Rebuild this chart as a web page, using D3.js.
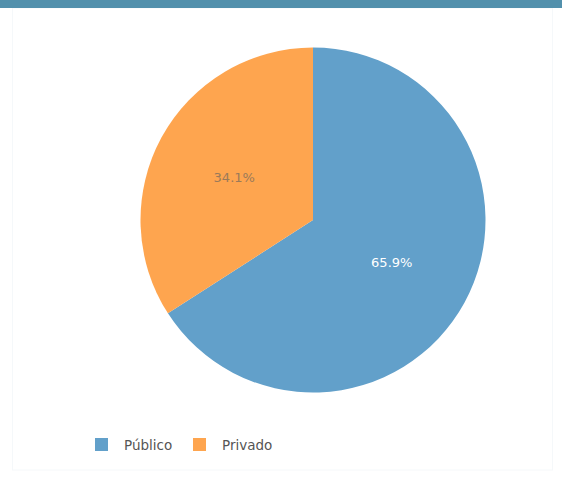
<!DOCTYPE html>
<html><head><meta charset="utf-8">
<script src="https://cdn.jsdelivr.net/npm/d3@7/dist/d3.min.js"></script>
<style>body{margin:0;background:#fff;}svg{display:block;}</style>
</head><body>
<svg id="c" width="562" height="479"></svg>
<script>
const categories = ["Público", "Privado"];
const values = [65.9, 34.1];
const colors = ["#62a0ca", "#fea54f"];
const labelColors = ["#ffffff", "#9a7a5a"];

const svg = d3.select("#c");
const W = 562, H = 479;
svg.append("rect").attr("x",0).attr("y",0).attr("width",W).attr("height",H).attr("fill","#fff");
svg.append("rect").attr("x",12.5).attr("y",8).attr("width",540).attr("height",462)
  .attr("fill","none").attr("stroke","#f5f8fa").attr("stroke-width",1);
svg.append("rect").attr("x",0).attr("y",0).attr("width",W).attr("height",8).attr("fill","#5290ac");

const cx = 313, cy = 220, r = 172.5;
const g = svg.append("g").attr("transform",`translate(${cx},${cy})`);
const pie = d3.pie().sort(null).value(d=>d.v);
const data = categories.map((c,i)=>({c, v: values[i], i}));
const arcs = pie(data);
const arc = d3.arc().innerRadius(0).outerRadius(r);
const labelArc = d3.arc().innerRadius(r*0.52).outerRadius(r*0.52);
g.selectAll("path").data(arcs).join("path")
  .attr("d", arc).attr("fill", d=>colors[d.data.i]);
g.selectAll("text").data(arcs).join("text")
  .attr("transform", d=>`translate(${labelArc.centroid(d)})`)
  .attr("text-anchor","middle").attr("dominant-baseline","central")
  .attr("font-family","DejaVu Sans, sans-serif").attr("font-size",13)
  .attr("fill", d=>labelColors[d.data.i])
  .text(d=>d.data.v.toFixed(1)+"%");

const legend = svg.append("g").attr("transform","translate(95,438)");
const lx = [0, 98];
categories.forEach((c,i)=>{
  const it = legend.append("g").attr("transform",`translate(${lx[i]},0)`);
  it.append("rect").attr("width",13).attr("height",13).attr("fill",colors[i]);
  it.append("text").attr("x",29).attr("y",7).attr("dominant-baseline","central")
    .attr("font-family","DejaVu Sans, sans-serif").attr("font-size",13.5).attr("fill","#555")
    .text(c);
});
</script>
</body></html>
